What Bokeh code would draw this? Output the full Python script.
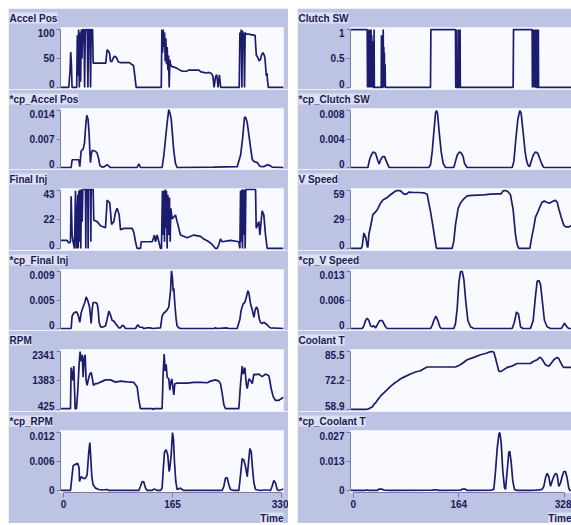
from bokeh.plotting import figure
from bokeh.models import Range1d, FixedTicker, Title
from bokeh.layouts import column, row
from bokeh.embed import file_html
from bokeh.resources import INLINE

# ---------------- data (time, value) ----------------
ACCEL_POS = [(-4,0),(8,0),(10,30),(11,61),(12,40),(13,0),(20,0),(21,90),(22,20),(23,100),(24,0),(25,95),(26,10),(27,100),(28,50),(29,100),(31,100),(32,0),(33,100),(36,100),(37,0),(38,100),(40,100),(41,0),(42,100),(44,100),(45,42),(64,42),(66,65),(68,63),(70,58),(71,46),(73,44),(75,50),(77,54),(79,53),(81,50),(83,44),(86,43),(100,43),(103,40),(106,38),(108,20),(110,0),(148,0),(149,100),(150,60),(151,100),(152,70),(153,95),(154,45),(155,85),(156,40),(157,70),(158,30),(159,55),(160,0),(161,48),(162,40),(164,36),(168,35),(172,33),(176,30),(180,28),(186,28),(190,30),(205,30),(208,27),(212,26),(216,25),(220,26),(224,24),(226,20),(228,0),(230,18),(232,22),(234,0),(236,22),(238,0),(266,0),(267,95),(268,80),(269,100),(270,0),(271,98),(272,85),(273,95),(274,0),(275,95),(276,92),(280,92),(290,90),(291,70),(292,55),(294,52),(296,46),(298,48),(300,57),(302,60),(304,55),(305,50),(306,35),(307,20),(308,25),(309,10),(310,0),(333,0)]

CP_ACCEL_POS = [(-4,0),(11.6,0),(13.1,0.0019),(23.2,0.0019),(24.7,0.0002),(26.7,0.004),(29.8,0.0045),(31.8,0.006),(33.8,0.0105),(35.3,0.0128),(37.3,0.0118),(38.9,0.008),(39.9,0.004),(40.9,0.0012),(41.9,0.003),(43.4,0.0042),(48.4,0.004),(51,0.0035),(53.5,0.002),(55,0.0005),(58.5,0.0001),(62.1,0.0002),(66.1,0.0007),(69.1,0.0003),(71.1,0),(111.5,0),(114,0.0009),(116.6,0),(149.3,0),(151.9,0.003),(154.4,0.007),(156.9,0.011),(159.4,0.0142),(160.9,0.0135),(163,0.012),(164.5,0.009),(167,0.004),(169.5,0.001),(172,0),(227.5,0.0001),(262.9,0.0002),(268,0.003),(271,0.007),(274,0.0124),(276,0.0122),(278.1,0.011),(280.6,0.008),(283.1,0.005),(285.7,0.002),(288.2,0.0015),(293.2,0.0012),(297.2,0.0003),(303.2,0.0002),(308.3,0.0007),(313.3,0.0004),(315.8,0.0001),(333,0)]

FINAL_INJ = [(-4,6),(5.5,6),(8.1,4),(10.6,5),(11.6,39),(13.1,10),(14.6,5),(16.7,0),(18.2,43),(19.7,0),(21.7,40),(22.2,0),(23.2,43),(24.2,5),(25.2,44),(26.2,0),(27.2,44),(28.3,20),(29.3,44),(33.3,44),(33.8,0),(34.3,44),(36.8,44),(37.3,0),(37.8,44),(40.9,44),(41.4,5),(41.9,44),(44.9,44),(45.9,21),(51,20),(56,17),(63.6,15.5),(66.1,36),(70.1,34),(72.7,18),(76.2,20),(78.7,27),(81.2,30),(84.3,25),(86.3,14),(91.3,15),(98.9,15),(103.9,15),(106.5,12),(109,5),(111.5,0),(116.6,0),(117.6,5),(134.2,5),(135.7,7),(137.7,10),(139.3,5),(141.8,10),(144.3,5),(146.8,0),(148.3,0),(149.8,43),(150.8,10),(151.9,43),(152.9,5),(153.9,44),(154.9,15),(155.9,43),(156.9,0),(157.9,40),(159.4,10),(160.4,38),(161.5,5),(162.5,30),(164.5,22),(169.5,25),(172,20),(177.1,10),(187.2,8),(197.3,10),(207.4,9),(212.4,7),(220,5),(225,3),(230.1,0),(232.6,0),(235.1,3),(237.6,7),(240.2,5),(252.8,6),(265.4,5),(267,0),(268,43),(269,5),(270,44),(271,0),(272,44),(273,10),(274,44),(275,0),(276,44),(290.7,44),(291.7,15),(295.7,20),(297.2,10),(300.7,28),(303.2,25),(305.8,10),(308.3,0),(333,0)]

CP_FINAL_INJ = [(-4,0),(11.6,0),(13.1,0.002),(15.6,0.0025),(19.7,0.0027),(22.2,0.0022),(24.7,0.001),(26.7,0.0025),(29.8,0.0035),(32.3,0.0042),(34.3,0.0051),(36.8,0.0045),(39.4,0.0035),(40.9,0.002),(41.9,0.0008),(43.4,0.003),(44.9,0.0042),(48.4,0.0042),(51,0.004),(52.5,0.003),(54,0.001),(56,0.0003),(58.5,0.0002),(63.6,0.0004),(66.1,0.0015),(68.6,0.0028),(71.1,0.0022),(73.7,0.0013),(76.2,0.0012),(78.7,0.0008),(81.2,0.0005),(83.8,0.0001),(86.3,0.0001),(88.8,0.0005),(91.3,0.0004),(93.8,0),(109,0),(112.5,0.0006),(115.5,0.0002),(119.1,0.0002),(121.6,0),(126.6,0.0001),(131.7,0.0001),(134.2,0),(146.8,0.0001),(149.3,0.002),(151.9,0.0025),(154.4,0.0027),(156.9,0.003),(159.4,0.0035),(162,0.006),(163.5,0.0093),(165,0.008),(166,0.006),(167,0.0065),(168.5,0.004),(170.5,0.0015),(172,0.0004),(174.6,0.0001),(177.1,0),(227.5,0),(230.1,0.0001),(232.6,0),(246.7,0.0001),(250.3,0),(262.9,0),(267,0.0015),(269,0.003),(272,0.004),(274.5,0.0042),(276.6,0.005),(279.1,0.0061),(280.6,0.0057),(283.1,0.004),(285.7,0.003),(288.2,0.0018),(290.2,0.003),(292.2,0.0035),(294.2,0.003),(296.2,0.0016),(298.2,0.001),(300.7,0.0008),(303.2,0.001),(308.3,0.0006),(310.8,0.0003),(313.3,0.0001),(333,0)]

RPM = [(-4,450),(10.6,450),(11.6,1810),(13.6,1383),(15.6,1860),(17.7,440),(19.7,460),(21.7,1064),(23.7,1915),(25.2,2341),(26.7,2020),(28.3,2234),(29.8,1490),(31.3,2128),(32.8,2234),(34.3,1383),(35.8,1223),(37.8,1436),(39.9,1596),(41.9,1649),(43.4,1490),(45.4,1223),(48.4,1277),(51,1277),(56,1330),(63.6,1404),(71.1,1404),(78.7,1330),(86.3,1362),(96.4,1340),(106.5,1319),(111.5,1170),(114,744),(116.6,450),(134.2,450),(135.2,425),(136.7,450),(149.3,450),(150.8,1596),(152.4,2256),(153.9,1702),(155.4,1915),(156.9,1490),(159.4,1436),(160.9,1064),(162.5,1330),(164,1436),(165.5,1170),(167,904),(168.5,1277),(172,1298),(179.6,1298),(187.2,1298),(197.3,1319),(207.4,1319),(217.5,1308),(222.5,1362),(230.1,1404),(235.1,1362),(237.6,1277),(240.2,957),(242.7,585),(245.2,450),(265.4,450),(268,1277),(270.5,1862),(272,1596),(274.5,1809),(276.6,1277),(278.1,1117),(280.6,1436),(283.1,1383),(285.7,1277),(288.2,1596),(290.7,1575),(295.7,1596),(300.7,1511),(305.8,1596),(310.8,1543),(312.3,1383),(314.3,1117),(317.4,851),(320.9,723),(325.9,723),(328.4,766),(333,829)]

CP_RPM = [(-4,0),(10.6,0),(12.1,0.0019),(14.6,0.0052),(18.2,0.0055),(21.7,0.0057),(23.7,0.0047),(24.2,0.0019),(26.7,0.0029),(30.8,0.0025),(33.3,0.0026),(35.8,0.0033),(38.3,0.0081),(39.9,0.0101),(41.4,0.0067),(42.9,0.0029),(44.9,0.0012),(48.4,0.0005),(53.5,0.0002),(58.5,0.0001),(66.1,0.0002),(68.6,0),(114,0),(116.6,0.0009),(119.1,0.0019),(121.6,0.0018),(124.1,0.0005),(126.6,0),(134.2,0),(136.7,0.0003),(139.3,0.0002),(141.8,0),(146.8,0),(149.3,0.0005),(150.8,0.004),(152.9,0.0081),(155.4,0.0086),(157.9,0.0074),(159.9,0.004),(160.9,0.0047),(163,0.0074),(165,0.0122),(166.5,0.0108),(168,0.006),(170,0.0019),(172,0.0002),(177.1,0.0005),(179.6,0.0002),(182.1,0),(240.2,0),(242.7,0.0009),(245.2,0.0026),(247.7,0.0027),(250.3,0.0012),(252.8,0.0002),(257.8,0),(265.4,0),(268,0.0033),(270.5,0.0067),(273,0.0064),(275.6,0.005),(278.1,0.0029),(280.6,0.0067),(282.1,0.0088),(284.2,0.0081),(286.1,0.0047),(288.2,0.0016),(290.7,0.0002),(298.2,0),(303.2,0.0001),(308.3,0.0001),(313.3,0),(315.8,0.0009),(318.4,0.0021),(320.9,0.0016),(323.4,0.0002),(325.9,0),(328.4,0.0001),(333,0.0003)]

CLUTCH_SW = [(-4,1),(21.7,1),(22.2,0),(22.7,1),(23.2,0),(23.7,1),(24.2,0),(24.7,1),(25.2,0),(25.7,1),(26.2,0),(26.7,1),(27.2,0),(27.7,1),(28.2,0),(28.7,0.9),(29.2,0),(29.7,0.8),(30.2,0),(30.7,0.6),(31.2,0),(32.1,0),(32.4,1),(32.8,0),(43.5,0),(43.9,0.9),(44.3,0),(44.8,0.8),(45.2,0),(46.2,0),(46.6,1),(47,0),(47.5,0.7),(47.9,0),(48.4,0.6),(48.8,0),(49.5,0.4),(50,0),(120,0),(120.6,1),(158.8,1),(159.2,0),(159.9,0),(160.3,1),(160.7,0),(163,0),(163.4,1),(163.8,0),(165.5,0),(165.9,1),(166.3,0),(248.3,0),(248.9,1),(277.8,1),(278.2,0),(278.6,1),(279,0),(279.4,1),(279.8,0),(280.2,1),(280.6,0),(281,1),(281.4,0),(281.8,1),(282.2,0),(282.6,0.9),(283,0),(283.4,1),(283.8,0),(284.6,0),(285,1),(285.4,0),(285.8,0.8),(286.2,0),(287,0),(287.4,1),(287.8,0),(339,0)]

CP_CLUTCH_SW = [(-4,0),(22.8,0),(25.3,0.0011),(27.9,0.0018),(31,0.0023),(34.7,0.0021),(38.3,0.001),(40.4,0.0005),(42.4,0.0011),(45.5,0.0016),(48.6,0.0016),(52.8,0.0006),(55.9,0),(117.4,0),(120,0.0004),(122.6,0.0023),(125.2,0.0052),(127.8,0.008),(129.3,0.0084),(130.9,0.008),(133.5,0.0052),(136.6,0.0023),(139.7,0.0006),(143.3,0),(156.2,0),(158.8,0.0009),(161.4,0.0018),(165,0.0023),(168.1,0.0021),(170.7,0.0016),(172.8,0.0006),(176.9,0),(246.8,0),(249.4,0.0009),(252.5,0.0042),(255.6,0.0071),(258.7,0.0084),(260.7,0.008),(263.8,0.0052),(266.9,0.0023),(269,0.0011),(271.1,0.0004),(273.7,0.0001),(276.3,0.0009),(279.4,0.0018),(283,0.0023),(286.6,0.0021),(289.7,0.0013),(293.3,0.0004),(295.9,0),(339,0)]

V_SPEED = [(-4,0),(12.4,0),(14,2.3),(16.6,15.7),(19.7,10.7),(21.7,2.3),(22.8,1),(24.3,14.1),(26.9,22),(30.5,34.2),(34.7,37),(38.3,40.2),(42.4,45.9),(46.6,49.2),(52.8,51.6),(57.9,54.3),(63.1,56.9),(67.2,58.6),(72.4,58.6),(76,56.9),(78.6,54.9),(82.8,54.9),(86.4,56.9),(94.2,56.6),(101.9,56.6),(109.7,56.3),(114.8,54.9),(117.4,45.9),(120,37.5),(124.2,20.8),(127.8,5.7),(129.3,0),(153.6,0),(156.2,7.4),(158.8,24.1),(163,40.9),(166.6,45.9),(171.8,50.2),(176.9,53.2),(184.7,53.6),(202.8,54.3),(213.1,54.9),(223.5,55.3),(229.7,55.3),(232.8,58.3),(236.4,58.6),(240,57.6),(244.2,54.3),(248.3,39.2),(251.9,14.1),(254.5,4),(257.1,0),(274.2,0),(277.3,11.7),(280.4,21.8),(283,31.8),(286.6,36.8),(289.7,41.9),(293.3,46.9),(296.9,47.9),(301.1,46.5),(305.2,45.9),(310.4,47.9),(314,48.6),(316.6,46.9),(319.2,40.2),(322.8,31.8),(327,23.4),(330.1,21.8),(334.6,21.8),(339,23.4)]

CP_V_SPEED = [(-4,0),(14,0),(16.6,0.0006),(19.1,0.0018),(21.7,0.0023),(24.3,0.0018),(26.9,0.0006),(29.5,0.0004),(32.1,0.0006),(34.7,0.0001),(38.3,0.0011),(41.4,0.0018),(45,0.0018),(47.6,0.0011),(50.2,0.0004),(52.8,0),(120,0),(122.6,0.0007),(125.2,0.0018),(128.3,0.0028),(131.4,0.0018),(134.5,0.0004),(136.6,0),(156.2,0),(158.8,0.0011),(161.4,0.0044),(164,0.0102),(166.6,0.0128),(169.2,0.0128),(171.8,0.011),(174.9,0.0059),(178,0.0018),(182.1,0.0004),(187.3,0),(246.8,0),(250.4,0.0015),(253.5,0.0037),(256.6,0.0033),(259.7,0.0004),(263.3,0),(275.2,0),(279.4,0.0018),(283,0.0073),(285.6,0.0106),(288.2,0.0108),(290.8,0.0099),(293.8,0.0059),(296.9,0.0018),(301.1,0.0004),(306.3,0),(322.8,0),(325.9,0.0006),(328,0.0012),(331.1,0.0005),(334.6,0),(339,0)]

COOLANT_T = [(-4,58.9),(19.7,58.9),(24.3,59.2),(26.9,59.7),(29.5,60),(31,60.6),(32.1,61.2),(34.7,61.9),(38.3,63.5),(42.4,65),(47.6,66.5),(52.8,68),(57.9,69.5),(63.1,70.8),(68.3,71.8),(73.5,73),(81.2,74.1),(88.9,75.2),(96.7,76.1),(104.4,76.7),(109.7,77.6),(114.8,78.4),(158.8,78.4),(164,79.1),(169.2,80),(176.9,81.7),(187.3,82.8),(197.6,84),(205.4,84.6),(210.6,85.2),(215.7,85.5),(218.3,85.2),(220.9,82.5),(223.5,79.4),(226.1,76.4),(229.7,76.4),(233.8,77.2),(239,78.2),(246.8,78.8),(254.5,80),(275.2,80),(279.4,80.9),(285.6,81.7),(288.2,82.5),(290.8,82.8),(293.8,81.7),(298.5,79.4),(303.7,78.7),(306.3,79.7),(311.4,81.7),(316.6,82.8),(319.2,82.2),(321.8,80.6),(324.4,79.1),(327,78.2),(339,78.2)]

CP_COOLANT_T = [(-4,0),(19.1,0),(21.7,0.0003),(24.3,0),(37.2,0),(39.8,0.0006),(45,0.0006),(48.6,0.0001),(57.9,0),(122.6,0.0001),(125.2,0.0003),(130.4,0.0003),(133,0),(166.6,0.00015),(169.2,0.0006),(174.3,0.0006),(176.9,0),(213.1,0.0001),(218.3,0.0005),(220.9,0.0087),(223.5,0.0191),(226.1,0.0258),(227.6,0.0266),(229.7,0.0221),(232.3,0.0087),(234.9,0.0012),(236.4,0.0005),(239,0.0087),(241.6,0.0176),(243.1,0.0179),(245.2,0.0131),(247.8,0.0042),(250.4,0.0005),(254.5,0),(275.2,0),(283,0.00015),(288.2,0.0003),(293.3,0.0005),(295.9,0.0019),(298.5,0.0057),(301.1,0.0079),(303.7,0.0064),(306.3,0.0019),(308.8,0.0042),(311.4,0.0064),(314,0.0079),(316.6,0.0072),(319.2,0.0019),(321.8,0.0034),(324.4,0.0064),(327,0.0087),(329.5,0.0087),(332.1,0.0057),(334.6,0.0012),(336.3,0),(339,0)]

# panel names, y ticks and tick labels
LEFT_NAMES = ["Accel Pos", "*cp_Accel Pos", "Final Inj", "*cp_Final Inj", "RPM", "*cp_RPM"]
LEFT_DATA = [ACCEL_POS, CP_ACCEL_POS, FINAL_INJ, CP_FINAL_INJ, RPM, CP_RPM]
LEFT_TICKS = [[0, 50, 100], [0, 0.007, 0.014], [0, 21.6, 43.2], [0, 0.0046, 0.0092], [425, 1383, 2341], [0, 0.0061, 0.0122]]
LEFT_LABELS = [["0", "50", "100"], ["0", "0.007", "0.014"], ["0", "22", "43"], ["0", "0.005", "0.009"], ["425", "1383", "2341"], ["0", "0.006", "0.012"]]
LEFT_XTICKS = [0, 165, 330]

RIGHT_NAMES = ["Clutch SW", "*cp_Clutch SW", "V Speed", "*cp_V Speed", "Coolant T", "*cp_Coolant T"]
RIGHT_DATA = [CLUTCH_SW, CP_CLUTCH_SW, V_SPEED, CP_V_SPEED, COOLANT_T, CP_COOLANT_T]
RIGHT_TICKS = [[0, 0.5, 1], [0, 0.0042, 0.0084], [0, 29.3, 58.6], [0, 0.0064, 0.0128], [58.9, 72.2, 85.5], [0, 0.0133, 0.0266]]
RIGHT_LABELS = [["0", "0.5", "1"], ["0", "0.004", "0.008"], ["0", "29", "59"], ["0", "0.006", "0.013"], ["58.9", "72.2", "85.5"], ["0", "0.013", "0.027"]]
RIGHT_XTICKS = [0, 164, 328]

# ---------------- styles ----------------
PANEL_BG = "#bdc3e3"
LABEL_BG = "#dde0f3"
FRAME_BG = "#f9faff"
LINE_C = "#1c1c6e"
TEXT_C = "#1a1a55"
AXIS_C = "#7c7ca4"
FONT = "Liberation Sans"
FRAME_HEIGHTS = [62, 61, 62, 61, 62, 62]
NB = "\u00a0"


def style_text(t):
    t.text_font = FONT
    t.text_font_size = "10px"
    t.text_font_style = "bold"
    t.text_color = TEXT_C
    t.background_fill_color = LABEL_BG


def make_panel(name, data, ticks, labels, xr, xticks, fw, bl, br, fh, bottom):
    ts = [d[0] for d in data]
    vs = [d[1] for d in data]
    lo, hi = ticks[0], ticks[-1]
    pad = (hi - lo) * 0.035
    p = figure(frame_width=fw, frame_height=fh,
               x_range=Range1d(*xr), y_range=Range1d(lo - pad, hi + pad),
               output_backend="svg", toolbar_location=None,
               min_border_left=bl, min_border_right=br, min_border_top=19,
               min_border_bottom=0,
               background_fill_color=FRAME_BG, border_fill_color=PANEL_BG,
               outline_line_color=None,
               x_axis_location="below" if bottom else None)
    p.line(ts, vs, line_color=LINE_C, line_width=1.7)
    p.grid.visible = False

    # the top label is nudged down (as in the original) with an empty first line
    shown = [labels[0], labels[1], NB + "\n" + labels[2]]
    ya = p.yaxis[0]
    ya.ticker = FixedTicker(ticks=ticks)
    ya.major_label_overrides = {t: l for t, l in zip(ticks, shown)}
    ya.bounds = (lo, hi)
    ya.axis_line_color = AXIS_C
    ya.major_tick_line_color = AXIS_C
    ya.minor_tick_line_color = None
    ya.major_tick_in = 0
    ya.major_tick_out = 4
    ya.major_label_standoff = 2
    ya.major_label_text_font = FONT
    ya.major_label_text_font_size = "10px"
    ya.major_label_text_font_style = "bold"
    ya.major_label_text_color = TEXT_C
    ya.major_label_text_line_height = 0.75

    p.title.text = name
    p.title.align = "left"
    p.title.vertical_align = "top"
    p.title.offset = -bl + 1
    p.title.standoff = 4
    style_text(p.title)

    if bottom:
        xa = p.xaxis[0]
        xa.ticker = FixedTicker(ticks=xticks)
        xa.bounds = (xticks[0], xticks[-1])
        xa.axis_line_color = AXIS_C
        xa.major_tick_line_color = AXIS_C
        xa.minor_tick_line_color = None
        xa.major_tick_in = 0
        xa.major_tick_out = 5
        xa.major_label_standoff = 2
        xa.major_label_text_font = FONT
        xa.major_label_text_font_size = "10px"
        xa.major_label_text_font_style = "bold"
        xa.major_label_text_color = TEXT_C
        tt = Title(text="Time", align="right", standoff=0)
        style_text(tt)
        p.add_layout(tt, "below")
    return p


left_figs = []
for i in range(6):
    left_figs.append(make_panel(LEFT_NAMES[i], LEFT_DATA[i], LEFT_TICKS[i], LEFT_LABELS[i],
                                (-4.5, 333.0), LEFT_XTICKS, 223, 52, 5, FRAME_HEIGHTS[i], i == 5))
right_figs = []
for i in range(6):
    right_figs.append(make_panel(RIGHT_NAMES[i], RIGHT_DATA[i], RIGHT_TICKS[i], RIGHT_LABELS[i],
                                 (-4.2, 338.9), RIGHT_XTICKS, 221, 53, 0, FRAME_HEIGHTS[i], i == 5))

layout = row(column(*left_figs, spacing=0), column(*right_figs, spacing=0), spacing=9,
             margin=(8, 0, 0, 8))

open("out.html", "w").write(file_html(layout, INLINE))
